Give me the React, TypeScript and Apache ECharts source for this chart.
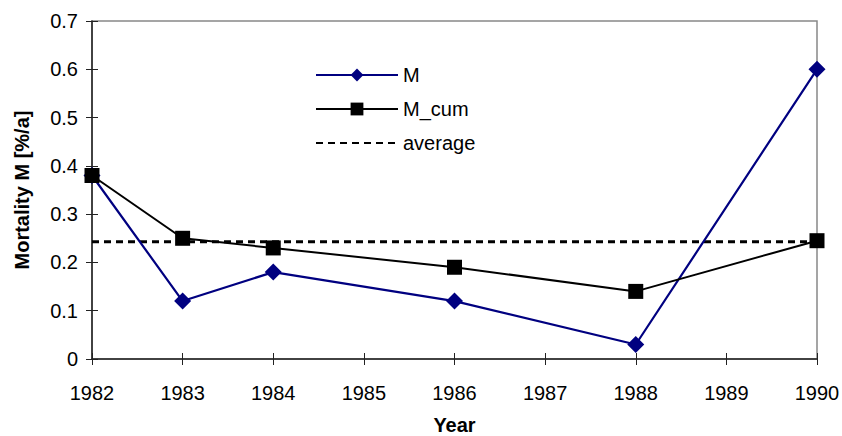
import React, { useEffect, useRef } from "react";
import * as echarts from "echarts";

const years = [1982, 1983, 1984, 1986, 1988, 1990];
const mValues = [0.38, 0.12, 0.18, 0.12, 0.03, 0.6];
const mCumValues = [0.38, 0.25, 0.23, 0.19, 0.14, 0.245];
const averageValue = 0.243;
const averageYears = [1982, 1990];

const FONT = "'Liberation Sans', Arial, sans-serif";

export default function App() {
  const ref = useRef<HTMLDivElement>(null);

  useEffect(() => {
    if (!ref.current) return;
    const chart = echarts.init(ref.current, undefined, { renderer: "svg" });

    const textStyle = { fontFamily: FONT, fontSize: 20, color: "#000" };

    const baseX = {
      type: "value",
      min: 1982,
      max: 1990,
      interval: 1,
      splitLine: { show: false },
    };
    const baseY = {
      type: "value",
      min: 0,
      max: 0.7,
      interval: 0.1,
      splitLine: { show: false },
    };

    chart.setOption({
      animation: false,
      backgroundColor: "#fff",
      textStyle: { fontFamily: FONT },
      grid: {
        left: 92,
        right: 25,
        top: 21,
        bottom: 77,
        containLabel: false,
        outerBoundsMode: "none",
        show: true,
        borderColor: "#888",
        borderWidth: 1.5,
      },
      xAxis: [
        {
          ...baseX,
          name: "Year",
          nameLocation: "middle",
          nameGap: 56,
          nameTextStyle: { ...textStyle, fontWeight: "bold" },
          axisLine: { show: true, lineStyle: { color: "#222", width: 1.5 } },
          axisTick: { show: true, length: 6, lineStyle: { color: "#222" } },
          axisLabel: { ...textStyle, margin: 24, formatter: (v: number) => String(v) },
        },
        {
          ...baseX,
          position: "bottom",
          axisLine: { show: false },
          axisTick: { show: true, inside: true, length: 6, lineStyle: { color: "#222" } },
          axisLabel: { show: false },
        },
      ],
      yAxis: [
        {
          ...baseY,
          name: "Mortality M [%/a]",
          nameLocation: "middle",
          nameGap: 60,
          nameTextStyle: { ...textStyle, fontWeight: "bold" },
          axisLine: { show: true, lineStyle: { color: "#222", width: 1.5 } },
          axisTick: { show: true, length: 6, lineStyle: { color: "#222" } },
          axisLabel: {
            ...textStyle,
            margin: 14,
            formatter: (v: number) => (v === 0 ? "0" : v.toFixed(1)),
          },
        },
        {
          ...baseY,
          position: "left",
          axisLine: { show: false },
          axisTick: { show: true, inside: true, length: 6, lineStyle: { color: "#222" } },
          axisLabel: { show: false },
        },
      ],
      legend: {
        orient: "vertical",
        left: 315,
        top: 65,
        padding: 0,
        itemWidth: 82,
        itemHeight: 16,
        itemGap: 14,
        textStyle: { ...textStyle },
        data: [
          { name: "M" },
          { name: "M_cum" },
          { name: "average", itemStyle: { opacity: 0 } },
        ],
      },
      series: [
        {
          name: "M",
          type: "line",
          data: years.map((y, i) => [y, mValues[i]]),
          symbol: "diamond",
          symbolSize: 17,
          color: "#000080",
          lineStyle: { color: "#000080", width: 2.2 },
          itemStyle: { color: "#000080" },
          z: 3,
        },
        {
          name: "M_cum",
          type: "line",
          data: years.map((y, i) => [y, mCumValues[i]]),
          symbol: "rect",
          symbolSize: 15,
          color: "#000",
          lineStyle: { color: "#000", width: 2 },
          itemStyle: { color: "#000" },
          z: 4,
        },
        {
          name: "average",
          type: "line",
          data: averageYears.map((y) => [y, averageValue]),
          symbol: "none",
          color: "#000",
          lineStyle: { color: "#000", width: 3, type: [7, 5] },
          z: 2,
        },
      ],
    });

    return () => chart.dispose();
  }, []);

  return <div ref={ref} style={{ width: 842, height: 436, position: "absolute", left: 0, top: 0 }} />;
}
